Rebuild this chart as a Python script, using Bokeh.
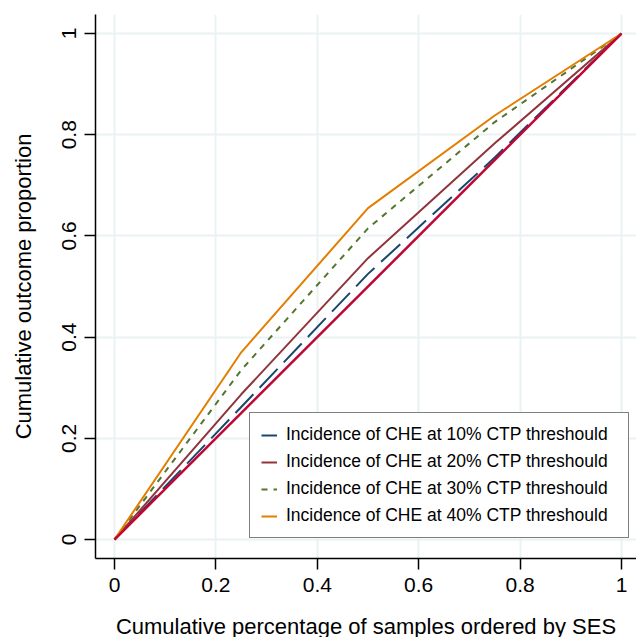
from bokeh.plotting import figure
from bokeh.models import FixedTicker, Range1d, Legend, LegendItem
from bokeh.embed import file_html
from bokeh.resources import INLINE

# Data
x_pts = [0.0, 0.25, 0.5, 0.75, 1.0]
che10 = [0.0, 0.262, 0.525, 0.755, 1.0]
che20 = [0.0, 0.287, 0.556, 0.783, 1.0]
che30 = [0.0, 0.335, 0.615, 0.825, 1.0]
che40 = [0.0, 0.370, 0.655, 0.838, 1.0]
eq_x = [0.0, 1.0]
eq_y = [0.0, 1.0]
tick_vals = [0, 0.2, 0.4, 0.6, 0.8, 1]
tick_labels = ["0", "0.2", "0.4", "0.6", "0.8", "1"]
series_names = [
    "Incidence of CHE at 10% CTP threshould",
    "Incidence of CHE at 20% CTP threshould",
    "Incidence of CHE at 30% CTP threshould",
    "Incidence of CHE at 40% CTP threshould",
]

FONT = "Liberation Sans"

p = figure(frame_width=541, frame_height=544,
           min_border_left=95, min_border_right=0,
           min_border_top=14, min_border_bottom=79,
           x_range=Range1d(-0.0375, 1.0296), y_range=Range1d(-0.0375, 1.0376),
           output_backend="svg", toolbar_location=None,
           background_fill_color="white", border_fill_color="white")
p.outline_line_color = None

for ax in (p.xaxis[0], p.yaxis[0]):
    ax.ticker = FixedTicker(ticks=tick_vals)
    ax.major_label_overrides = {v: l for v, l in zip(tick_vals, tick_labels)}
    ax.major_tick_out = 11
    ax.major_tick_in = 0
    ax.minor_tick_line_color = None
    ax.axis_line_color = "black"
    ax.axis_line_width = 1.5
    ax.major_tick_line_color = "black"
    ax.major_tick_line_width = 1.5
    ax.major_label_text_font = FONT
    ax.major_label_text_font_size = "21px"
    ax.major_label_text_color = "black"
    ax.axis_label_text_font = FONT
    ax.axis_label_text_font_size = "22px"
    ax.axis_label_text_font_style = "normal"
    ax.axis_label_text_color = "black"

p.xaxis.axis_label = "Cumulative percentage of samples ordered by SES"
p.yaxis.axis_label = "Cumulative outcome proportion"
p.yaxis.major_label_orientation = "vertical"
p.xaxis.major_label_standoff = 8
p.yaxis.major_label_standoff = 8
p.xaxis.axis_label_standoff = 19
p.yaxis.axis_label_standoff = 24

for g in (p.xgrid[0], p.ygrid[0]):
    g.ticker = FixedTicker(ticks=tick_vals)
    g.grid_line_color = "#eaf2f3"
    g.grid_line_width = 2

r10 = p.line(x_pts, che10, line_color="#1a476f", line_width=2, line_dash="26 9")
r20 = p.line(x_pts, che20, line_color="#90353b", line_width=2)
r30 = p.line(x_pts, che30, line_color="#55752f", line_width=2, line_dash="6 6")
r40 = p.line(x_pts, che40, line_color="#e37e00", line_width=2)
p.line(eq_x, eq_y, line_color="#c10534", line_width=2.5)

legend = Legend(items=[LegendItem(label=n, renderers=[r]) for n, r in
                       zip(series_names, [r10, r20, r30, r40])],
                location=(154, 20), margin=0, padding=11, spacing=6,
                label_height=20, label_width=331, glyph_width=16, glyph_height=20,
                label_standoff=9, label_text_font=FONT,
                label_text_font_size="17.5px", label_text_color="black",
                border_line_color="black", border_line_width=1.5,
                background_fill_color="white", background_fill_alpha=1)
p.add_layout(legend, "center")

open("out.html", "w").write(file_html(p, INLINE))
